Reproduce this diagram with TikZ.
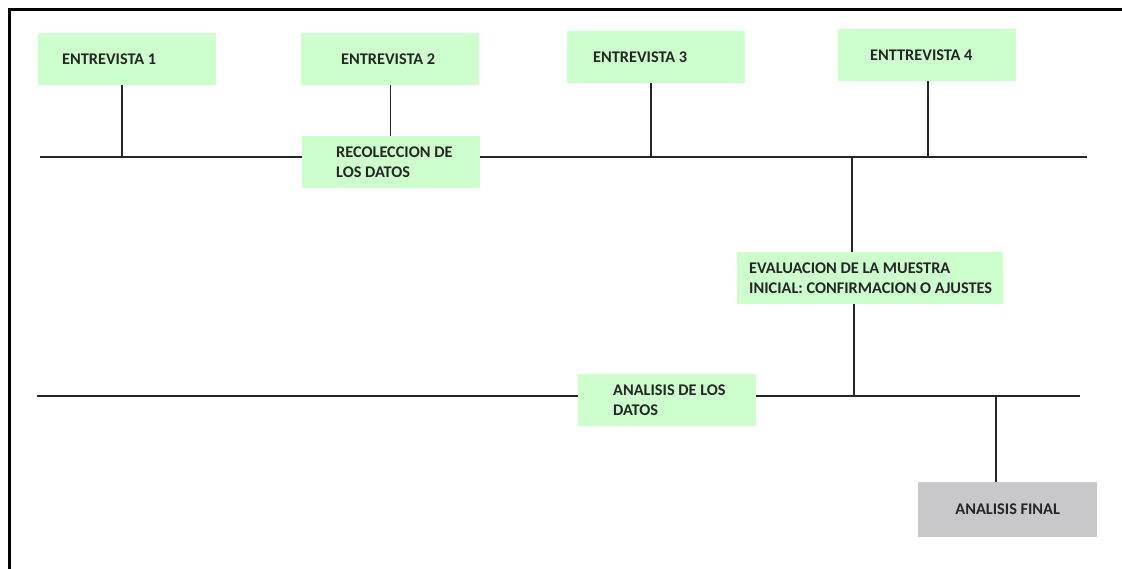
\documentclass[tikz,border=0pt]{standalone}
\usepackage{fontspec}
\setmainfont{Carlito}
\usetikzlibrary{calc}
\definecolor{boxgreen}{HTML}{CCFFCC}
\definecolor{boxgray}{HTML}{C8C8CA}
\definecolor{ink}{HTML}{262626}
\tikzset{
  frame/.style={draw=black, line width=3pt},
  link/.style={draw=ink, line width=1.4pt},
  box/.style={fill=boxgreen, anchor=north west, minimum width=178pt, minimum height=52pt, inner sep=0pt},
  finbox/.style={box, fill=boxgray, minimum width=179pt, minimum height=55pt},
  txt/.style={anchor=west, inner sep=0pt, align=left, text=ink, font=\fontsize{16.3}{20}\selectfont\bfseries},
}
\begin{document}
\begin{tikzpicture}[x=1pt,y=-1pt]
  \useasboundingbox (0,0) rectangle (1122,569);
  \draw[frame] (9,569) -- (9,10) -- (1122,10);
  % interviews
  \node[box] (e1) at (38,33) {};
  \node[box] (e2) at (301,33) {};
  \node[box] (e3) at (567,31) {};
  \node[box] (e4) at (838,29) {};
  \node[txt] (e1t) at ($(e1.west)+(24,0)$) {ENTREVISTA 1};
  \node[txt] (e2t) at ($(e2.west)+(40,0)$) {ENTREVISTA 2};
  \node[txt] (e3t) at ($(e3.west)+(26,0)$) {ENTREVISTA 3};
  \node[txt] (e4t) at ($(e4.west)+(32,0)$) {ENTTREVISTA 4};
  % middle boxes
  \node[box] (rec) at (302,136) {};
  \node[txt] (rect) at ($(rec.west)+(34,0)$) {RECOLECCION DE\\LOS DATOS};
  \node[box, minimum width=266pt] (eval) at (737,252) {};
  \node[txt] (evalt) at ($(eval.west)+(12,0)$) {EVALUACION DE LA MUESTRA\\INICIAL: CONFIRMACION O AJUSTES};
  \node[box] (ana) at (578,374) {};
  \node[txt] (anat) at ($(ana.west)+(35,0)$) {ANALISIS DE LOS\\DATOS};
  \node[finbox] (fin) at (918,482) {};
  \node[txt, anchor=center] (fint) at (fin.center) {ANALISIS FINAL};
  % time lines
  \coordinate (l1w) at (40,157);
  \coordinate (l1e) at (1087,157);
  \coordinate (l2w) at (37,396);
  \coordinate (l2e) at (1080,396);
  \draw[link] (l1w) -- (l1w -| rec.west);
  \draw[link] (l1w -| rec.east) -- (l1e);
  \draw[link] (l2w) -- (l2w -| ana.west);
  \draw[link] (l2w -| ana.east) -- (l2e);
  % stems
  \coordinate (j1) at (122,157);
  \coordinate (j3) at (651,157);
  \coordinate (j4) at (928,157);
  \coordinate (jd) at (852,157);
  \coordinate (ju) at (854,396);
  \coordinate (jf) at (996,396);
  \draw[link] (e1.south -| j1) -- (j1);
  \draw[link] (e2.south) -- (e2.south |- rec.north);
  \draw[link] (e3.south -| j3) -- (j3);
  \draw[link] (e4.south -| j4) -- (j4);
  \draw[link] (jd) -- (eval.north -| jd);
  \draw[link] (eval.south -| ju) -- (ju);
  \draw[link] (jf) -- (fin.north -| jf);
\end{tikzpicture}
\end{document}
